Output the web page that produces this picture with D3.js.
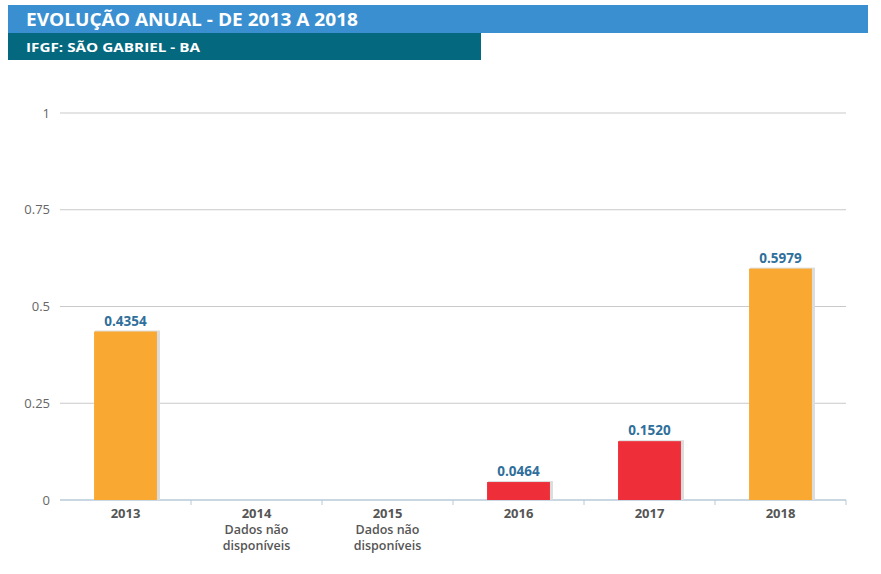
<!DOCTYPE html>
<html lang="pt">
  <head>
    <meta charset="UTF-8" />
    <title>IFGF São Gabriel</title>
    <style>
      body { margin: 0; background: #fff; }
      text { font-family: "Open Sans", Roboto, sans-serif; }
    </style>
  </head>
  <body>
    <svg id="svg" width="881" height="574"></svg>

    <script src="https://d3js.org/d3.v7.min.js"></script>
    <script>
      const years = ["2013", "2014", "2015", "2016", "2017", "2018"];
      const values = [0.4354, null, null, 0.0464, 0.152, 0.5979];
      const subLabels = [[], ["Dados não", "disponíveis"], ["Dados não", "disponíveis"], [], [], []];
      const yTicks = [0, 0.25, 0.5, 0.75, 1];

      const svg = d3.select("#svg");

      // header bars
      svg.append("rect").attr("x", 8).attr("y", 5).attr("width", 860).attr("height", 28).attr("fill", "#3a8fd1");
      svg.append("rect").attr("x", 8).attr("y", 33).attr("width", 473).attr("height", 27).attr("fill", "#04687f");
      svg.append("text").attr("x", 26).attr("y", 26).attr("fill", "#fff")
        .attr("font-size", 18).attr("font-weight", "bold")
        .attr("textLength", 332).attr("lengthAdjust", "spacingAndGlyphs")
        .text("EVOLUÇÃO ANUAL - DE 2013 A 2018");
      svg.append("text").attr("x", 26).attr("y", 52).attr("fill", "#fff")
        .attr("font-size", 13).attr("font-weight", "bold")
        .attr("textLength", 174).attr("lengthAdjust", "spacingAndGlyphs")
        .text("IFGF: SÃO GABRIEL - BA");

      const xScale = d3.scaleBand().domain(years).range([60, 846]).paddingInner(0.52).paddingOuter(0.26);
      const yScale = d3.scaleLinear().domain([0, 1]).range([500, 113]);

      // grid
      svg.append("g").selectAll("line").data(yTicks.filter((d) => d > 0)).enter().append("line")
        .attr("x1", 60).attr("x2", 846)
        .attr("y1", (d) => yScale(d)).attr("y2", (d) => yScale(d))
        .attr("stroke", "#c9c9c9").attr("stroke-width", 1.2);

      svg.append("g").selectAll("text").data(yTicks).enter().append("text")
        .attr("x", 50).attr("y", (d) => yScale(d) + 4.5)
        .attr("text-anchor", "end").attr("font-size", 13).attr("fill", "#666")
        .text((d) => d);

      // x axis line and ticks
      svg.append("line").attr("x1", 60).attr("x2", 846).attr("y1", 500).attr("y2", 500)
        .attr("stroke", "#b7cad8").attr("stroke-width", 1.5);
      const bandW = 786 / years.length;
      svg.append("g").selectAll("line").data(d3.range(1, years.length + 1)).enter().append("line")
        .attr("x1", (i) => 60 + i * bandW).attr("x2", (i) => 60 + i * bandW)
        .attr("y1", 500).attr("y2", 505).attr("stroke", "#b7cad8");

      const data = years.map((y, i) => ({ year: y, value: values[i], sub: subLabels[i] }));
      const withVal = data.filter((d) => d.value !== null);
      const cx = (d) => xScale(d.year) + xScale.bandwidth() / 2;

      // bars with light shadow edge
      svg.append("g").selectAll("rect").data(withVal).enter().append("rect")
        .attr("x", (d) => xScale(d.year) + 1).attr("y", (d) => yScale(d.value) - 1)
        .attr("width", xScale.bandwidth() + 2).attr("height", (d) => 500 - yScale(d.value) + 1)
        .attr("fill", "#dcdcdc");
      svg.append("g").selectAll("rect").data(withVal).enter().append("rect")
        .attr("x", (d) => xScale(d.year)).attr("y", (d) => yScale(d.value))
        .attr("width", xScale.bandwidth()).attr("height", (d) => 500 - yScale(d.value))
        .attr("fill", (d) => (d.value < 0.2 ? "#ee2e38" : "#f9a932"));

      svg.append("g").selectAll("text").data(withVal).enter().append("text")
        .attr("x", cx).attr("y", (d) => yScale(d.value) - 6)
        .attr("text-anchor", "middle").attr("font-size", 13.5).attr("font-weight", "bold")
        .attr("fill", "#2f6f9b").text((d) => d.value.toFixed(4));

      // category labels
      svg.append("g").selectAll("text").data(data).enter().append("text")
        .attr("x", cx).attr("y", 518).attr("text-anchor", "middle")
        .attr("font-size", 13).attr("font-weight", "bold").attr("fill", "#555")
        .text((d) => d.year);
      const subs = data.flatMap((d) => d.sub.map((s, j) => ({ d, s, j })));
      svg.append("g").selectAll("text").data(subs).enter().append("text")
        .attr("x", (e) => cx(e.d)).attr("y", (e) => 534 + e.j * 15.5)
        .attr("text-anchor", "middle").attr("font-size", 12.5).attr("font-weight", "600")
        .attr("fill", "#555").text((e) => e.s);
    </script>
  </body>
</html>
